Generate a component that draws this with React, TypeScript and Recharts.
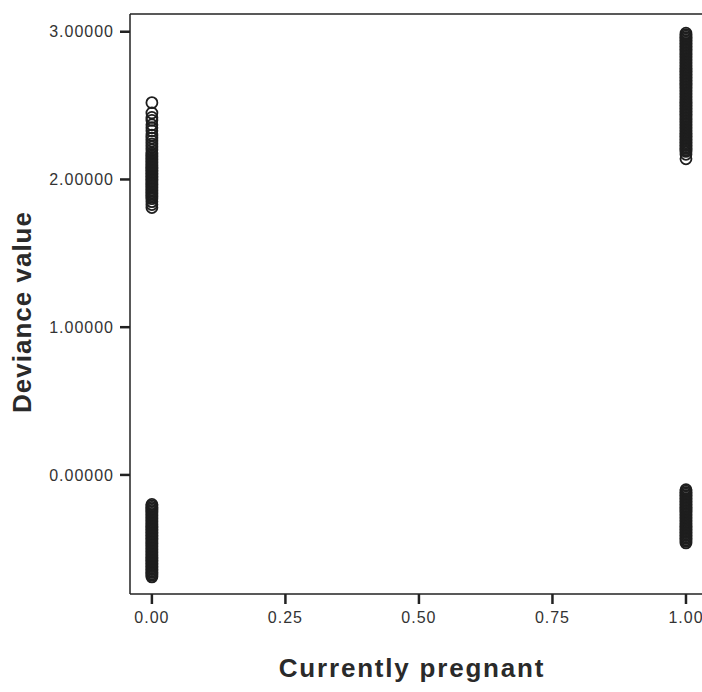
import { ScatterChart, Scatter, XAxis, YAxis, ReferenceLine, Label } from 'recharts';

// Deviance values, grouped by "Currently pregnant" (0 / 1)
const notPregnantHigh = [
  2.52, 2.45, 2.42, 2.4, 2.37, 2.35, 2.33, 2.3, 2.28, 2.26, 2.24, 2.22, 2.2, 2.18, 2.17, 2.16,
  2.15, 2.14, 2.13, 2.12, 2.11, 2.1, 2.09, 2.08, 2.07, 2.06, 2.05, 2.04, 2.03, 2.02, 2.01, 2.0,
  1.99, 1.98, 1.97, 1.96, 1.95, 1.94, 1.93, 1.92, 1.91, 1.9, 1.89, 1.88, 1.87, 1.85, 1.83, 1.81,
];
const notPregnantLow = [
  -0.2, -0.21, -0.22, -0.23, -0.24, -0.25, -0.26, -0.27, -0.28, -0.29, -0.3, -0.31, -0.32, -0.33,
  -0.34, -0.35, -0.36, -0.37, -0.38, -0.39, -0.4, -0.41, -0.42, -0.43, -0.44, -0.45, -0.46, -0.47,
  -0.48, -0.49, -0.5, -0.51, -0.52, -0.53, -0.54, -0.55, -0.56, -0.57, -0.58, -0.59, -0.6, -0.61,
  -0.62, -0.63, -0.64, -0.65, -0.66, -0.67, -0.68, -0.69,
];
const pregnantHigh = [
  2.99, 2.98, 2.97, 2.96, 2.95, 2.94, 2.93, 2.92, 2.91, 2.9, 2.89, 2.88, 2.87, 2.86, 2.85, 2.84,
  2.83, 2.82, 2.81, 2.8, 2.79, 2.78, 2.77, 2.76, 2.75, 2.74, 2.73, 2.72, 2.71, 2.7, 2.69, 2.68,
  2.67, 2.66, 2.65, 2.64, 2.63, 2.62, 2.61, 2.6, 2.59, 2.58, 2.57, 2.56, 2.55, 2.54, 2.53, 2.52,
  2.51, 2.5, 2.49, 2.48, 2.47, 2.46, 2.45, 2.44, 2.43, 2.42, 2.41, 2.4, 2.39, 2.38, 2.37, 2.36,
  2.35, 2.34, 2.33, 2.32, 2.31, 2.3, 2.29, 2.28, 2.27, 2.26, 2.25, 2.24, 2.23, 2.22, 2.21, 2.2,
  2.19, 2.17, 2.14,
];
const pregnantLow = [
  -0.1, -0.11, -0.12, -0.13, -0.14, -0.15, -0.16, -0.17, -0.18, -0.19, -0.2, -0.21, -0.22, -0.23,
  -0.24, -0.25, -0.26, -0.27, -0.28, -0.29, -0.3, -0.31, -0.32, -0.33, -0.34, -0.35, -0.36, -0.37,
  -0.38, -0.39, -0.4, -0.41, -0.42, -0.43, -0.44, -0.45, -0.46,
];

const xTicks = [0, 0.25, 0.5, 0.75, 1];
const yTicks = [0, 1, 2, 3];

const points = [
  ...notPregnantHigh.map((v) => ({ x: 0, y: v })),
  ...notPregnantLow.map((v) => ({ x: 0, y: v })),
  ...pregnantHigh.map((v) => ({ x: 1, y: v })),
  ...pregnantLow.map((v) => ({ x: 1, y: v })),
];

const FONT = 'Arial, "Liberation Sans", sans-serif';
const Y_MAX = 3.12;
const tickStyle = { fontSize: 16, fill: '#333', fontFamily: FONT, letterSpacing: 1 };

const OpenCircle = (props: any) => (
  <circle cx={props.cx} cy={props.cy} r={5.5} fill="none" stroke="#1e1e1e" strokeWidth={1.8} />
);

export default function App() {
  return (
    <div style={{ position: 'absolute', left: 0, top: 0, width: 702, height: 692, background: '#fff' }}>
      <ScatterChart width={702} height={692} margin={{ top: 14, right: 0, bottom: 58, left: 20 }}>
        <XAxis
          type="number"
          dataKey="x"
          domain={[-0.041, 1.03]}
          allowDataOverflow
          ticks={xTicks}
          tickFormatter={(v: number) => v.toFixed(2)}
          tick={tickStyle}
          tickSize={10}
          tickMargin={8}
          height={40}
          axisLine={{ stroke: '#222', strokeWidth: 1.5 }}
          tickLine={{ stroke: '#222', strokeWidth: 2.5 }}
        >
          <Label
            content={() => (
              <text
                x={412}
                y={677}
                textAnchor="middle"
                fontSize={26}
                fontWeight="bold"
                fontFamily={FONT}
                letterSpacing={1.8}
                fill="#2a2a2a"
              >
                Currently pregnant
              </text>
            )}
          />
        </XAxis>
        <YAxis
          type="number"
          dataKey="y"
          domain={[-0.806, Y_MAX]}
          allowDataOverflow
          ticks={yTicks}
          tickFormatter={(v: number) => v.toFixed(5)}
          tick={tickStyle}
          tickSize={10}
          tickMargin={6}
          width={110}
          axisLine={{ stroke: '#222', strokeWidth: 1.5 }}
          tickLine={{ stroke: '#222', strokeWidth: 2.5 }}
        >
          <Label
            content={() => (
              <text
                x={31}
                y={312}
                transform="rotate(-90 31 312)"
                textAnchor="middle"
                fontSize={26}
                fontWeight="bold"
                fontFamily={FONT}
                letterSpacing={1}
                fill="#2a2a2a"
              >
                Deviance value
              </text>
            )}
          />
        </YAxis>
        <ReferenceLine y={Y_MAX} stroke="#222" strokeWidth={1.5} />
        <Scatter data={points} shape={OpenCircle} isAnimationActive={false} />
      </ScatterChart>
    </div>
  );
}
